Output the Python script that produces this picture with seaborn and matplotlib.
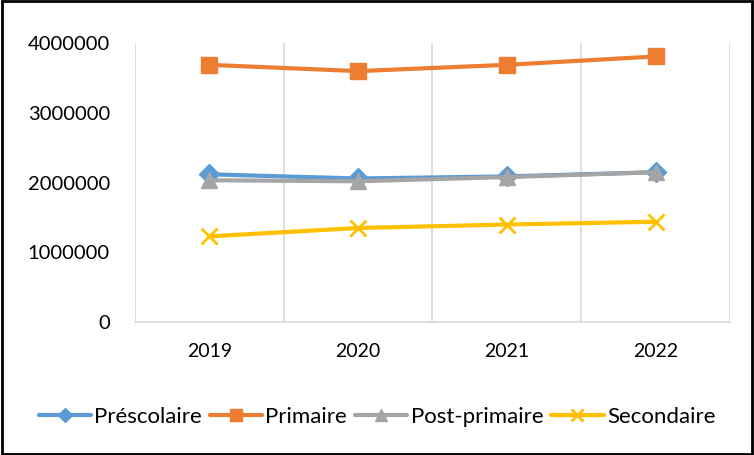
import pandas as pd
import matplotlib.pyplot as plt
import seaborn as sns
from matplotlib.patches import Rectangle

years = ["2019", "2020", "2021", "2022"]
prescolaire = [2120000, 2060000, 2090000, 2150000]
primaire = [3690000, 3600000, 3690000, 3810000]
post_primaire = [2035000, 2020000, 2080000, 2150000]
secondaire = [1230000, 1350000, 1400000, 1440000]

series_names = ["Préscolaire", "Primaire", "Post-primaire", "Secondaire"]
colors = ["#5B9BD5", "#ED7D31", "#A5A5A5", "#FFC000"]
markers = ["D", "s", "^", "x"]
y_ticks = [0, 1000000, 2000000, 3000000, 4000000]

all_values = [prescolaire, primaire, post_primaire, secondaire]

sns.set_style("white")
plt.rcParams['font.family'] = ['Lato', 'DejaVu Sans']
plt.rcParams['text.color'] = 'black'
plt.rcParams['xtick.color'] = 'black'
plt.rcParams['ytick.color'] = 'black'

fig = plt.figure(figsize=(7.54, 4.55), dpi=100)
ax = fig.add_axes([0.179, 0.292, 0.789, 0.613])

# seaborn won't mix filled and line markers in one call, so one call per series
for name, vals, col, mk in zip(series_names, all_values, colors, markers):
    d = pd.DataFrame({"year": years, "value": vals})
    sns.lineplot(data=d, x="year", y="value", color=col, marker=mk,
                 linewidth=3, markersize=10 if mk == "D" else 11,
                 markeredgewidth=2 if mk == "x" else 1,
                 markeredgecolor=col, label=name, ax=ax, zorder=3)

# Excel puts the gridlines between categories
ax.set_xlim(-0.5, 3.5)
ax.set_xticks([-0.5, 0.5, 1.5, 2.5, 3.5], minor=True)
ax.grid(True, which="minor", axis="x", color="#D9D9D9", linewidth=1.2)
ax.grid(False, which="major")
ax.set_ylim(0, 4000000)
ax.set_yticks(y_ticks)
ax.set_yticklabels([str(v) for v in y_ticks])

for s in ["top", "right", "left"]:
    ax.spines[s].set_visible(False)
ax.spines["bottom"].set_color("#D9D9D9")
ax.spines["bottom"].set_linewidth(1.2)

ax.tick_params(axis="y", length=0, pad=18, labelsize=14.5)
ax.tick_params(axis="x", which="both", length=0, pad=15, labelsize=14)
ax.set_xlabel("")
ax.set_ylabel("")

handles, labels = ax.get_legend_handles_labels()
ax.legend_.remove()
fig.legend(handles, labels, loc="center", bbox_to_anchor=(0.5, 0.083), ncol=4,
           frameon=False, fontsize=16, handlelength=2.35, handletextpad=0.15,
           columnspacing=0.36, markerscale=0.75)

fig.patches.append(Rectangle((0.002, 0.002), 0.996, 0.996, transform=fig.transFigure,
                             fill=False, edgecolor="black", linewidth=2))

fig.savefig("out.png", dpi=100)
